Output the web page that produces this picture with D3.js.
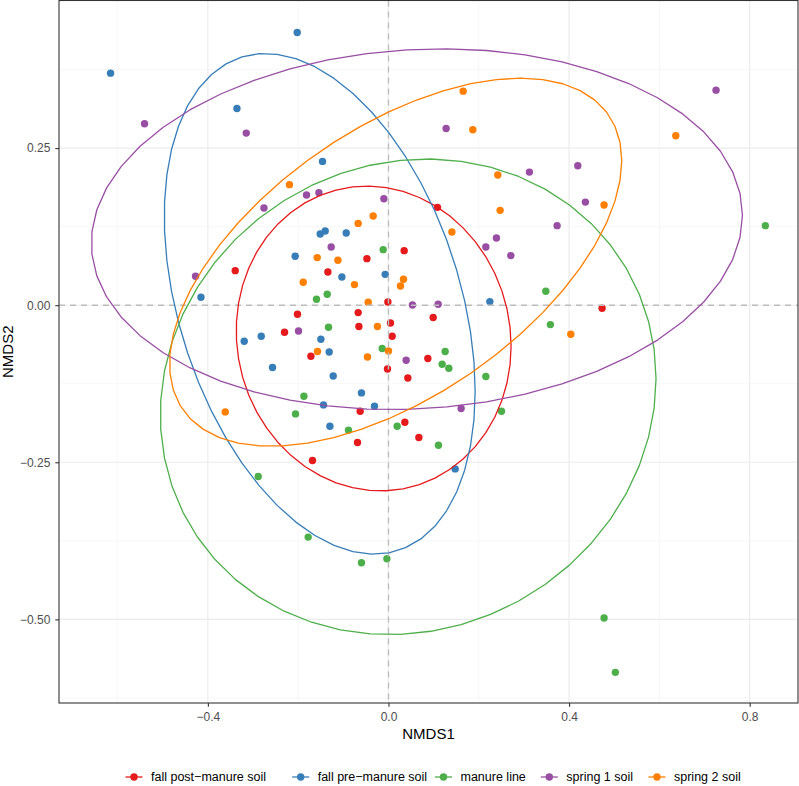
<!DOCTYPE html>
<html>
<head>
<meta charset="utf-8">
<script src="https://cdn.jsdelivr.net/npm/d3@7"></script>
<style>
  html, body { margin: 0; padding: 0; background: #fff; }
  svg { display: block; font-family: "Liberation Sans", Arial, Helvetica, sans-serif; }
</style>
</head>
<body>
<svg id="chart" width="799" height="786"></svg>
<script>
// ---------- data ----------
const groups = ["fall post\u2212manure soil", "fall pre\u2212manure soil", "manure line", "spring 1 soil", "spring 2 soil"];
const colors = ["#E41A1C", "#377EB8", "#4DAF4A", "#984EA3", "#FF7F00"];

const fallPost = [
  [0.1085,0.1557],[0.0348,0.0868],[-0.0478,0.0741],[-0.3394,0.0550],[-0.1342,0.0528],
  [-0.0013,0.0051],[-0.2015,-0.0145],[-0.0671,-0.0118],[0.0990,-0.0197],[0.0044,-0.0283],
  [-0.0655,-0.0340],[-0.2302,-0.0431],[0.0082,-0.0495],[-0.1718,-0.0813],[0.0872,-0.0849],
  [-0.0022,-0.1015],[0.0429,-0.1158],[-0.0627,-0.1687],[0.0363,-0.1862],[0.0673,-0.2106],
  [-0.0686,-0.2185],[-0.1683,-0.2471],[0.4731,-0.0049]
];
const fallPre = [
  [-0.6155,0.3693],[-0.3356,0.3131],[-0.2021,0.4340],[-0.1461,0.2288],[-0.1512,0.1132],
  [-0.1401,0.1180],[-0.0936,0.1148],[-0.2066,0.0778],[-0.1032,0.0448],[-0.0073,0.0491],
  [0.2245,0.0057],[-0.4153,0.0126],[-0.3195,-0.0574],[-0.2818,-0.0495],[-0.1497,-0.0542],
  [-0.1313,-0.0744],[-0.2568,-0.0992],[-0.1224,-0.1126],[-0.0598,-0.1396],[-0.1439,-0.1587],
  [-0.0310,-0.1608],[-0.1297,-0.1926],[0.1477,-0.2605]
];
const manureLine = [
  [-0.0117,0.0884],[-0.1357,0.0173],[-0.1594,0.0094],[-0.1328,-0.0351],[-0.0139,-0.0690],
  [0.1255,-0.0738],[0.1189,-0.0940],[0.1337,-0.1003],[0.2156,-0.1135],[-0.1873,-0.1449],
  [-0.2059,-0.1730],[0.2502,-0.1687],[-0.0886,-0.1989],[0.0193,-0.1926],[0.1107,-0.2228],
  [-0.2885,-0.2726],[-0.1778,-0.3691],[-0.0598,-0.4100],[-0.0035,-0.4036],[0.4775,-0.4979],
  [0.5025,-0.5843],[0.3485,0.0221],[0.3586,-0.0309],[0.8346,0.1266]
];
const spring1 = [
  [-0.5402,0.2888],[-0.3150,0.2739],[-0.2758,0.1546],[0.1277,0.2813],[-0.1815,0.1753],
  [-0.1541,0.1791],[-0.0102,0.1695],[0.3122,0.2118],[0.2391,0.1069],[0.2156,0.0926],
  [-0.1269,0.0926],[0.2710,0.0789],[0.7255,0.3422],[0.4193,0.2220],[0.4361,0.1641],
  [0.3735,0.1266],[-0.4273,0.0460],[0.0531,0.0003],[0.1100,0.0014],[-0.1992,-0.0410],
  [0.0392,-0.0876],[0.1609,-0.1644]
];
const spring2 = [
  [0.1654,0.3406],[0.1868,0.2793],[0.2422,0.2071],[-0.2192,0.1918],[0.2473,0.1509],
  [-0.0339,0.1419],[-0.0671,0.1302],[0.1404,0.1164],[-0.1578,0.0757],[-0.1120,0.0714],
  [0.0332,0.0412],[0.0266,0.0305],[-0.1888,0.0364],[-0.0753,0.0328],[-0.0449,0.0046],
  [-0.0244,-0.0340],[0.0000,-0.0728],[-0.1572,-0.0738],[-0.0465,-0.0824],[0.6363,0.2697],
  [0.4775,0.1594],[0.4038,-0.0463],[-0.3615,-0.1698]
];
const seriesPoints = [fallPost, fallPre, manureLine, spring1, spring2];

// ellipses: [centre x, centre y, half-extent x, half-extent y, correlation]
const ellipseCx  = [-0.0328, -0.1523, 0.0436, 0.0629, 0.0159];
const ellipseCy  = [-0.0530,  0.0022, -0.1458, 0.1210, 0.0684];
const ellipseHx  = [ 0.3044,  0.3443, 0.5490, 0.7211, 0.5008];
const ellipseHy  = [ 0.2425,  0.3984, 0.3785, 0.2871, 0.2929];
const ellipseRho = [-0.05,   -0.35,   0.076,  0.077,  0.552];

const xTicks = [-0.4, 0.0, 0.4, 0.8];
const xTickLabels = ["\u22120.4", "0.0", "0.4", "0.8"];
const xMinor = [-0.6, -0.2, 0.2, 0.6];
const yTicks = [-0.5, -0.25, 0.0, 0.25];
const yTickLabels = ["\u22120.50", "\u22120.25", "0.00", "0.25"];
const yMinor = [-0.625, -0.375, -0.125, 0.125, 0.375];

// ---------- layout ----------
const svg = d3.select("#chart");
const P = { left: 59, right: 798, top: 0.5, bottom: 703 };
const x = d3.scaleLinear().domain([-0.7297, 0.907]).range([P.left, P.right]);
const y = d3.scaleLinear().domain([-0.6331, 0.4849]).range([P.bottom, P.top]);

const panel = svg.append("g");
panel.append("rect").attr("x", P.left).attr("y", P.top)
  .attr("width", P.right - P.left).attr("height", P.bottom - P.top).attr("fill", "#fff");

// minor grid
panel.selectAll(".xminor").data(xMinor).enter().append("line")
  .attr("x1", d => x(d)).attr("x2", d => x(d)).attr("y1", P.top).attr("y2", P.bottom)
  .attr("stroke", "#F2F2F2").attr("stroke-width", 0.6);
panel.selectAll(".yminor").data(yMinor).enter().append("line")
  .attr("y1", d => y(d)).attr("y2", d => y(d)).attr("x1", P.left).attr("x2", P.right)
  .attr("stroke", "#F2F2F2").attr("stroke-width", 0.6);
// major grid
panel.selectAll(".xmajor").data(xTicks).enter().append("line")
  .attr("x1", d => x(d)).attr("x2", d => x(d)).attr("y1", P.top).attr("y2", P.bottom)
  .attr("stroke", "#EBEBEB").attr("stroke-width", 1.1);
panel.selectAll(".ymajor").data(yTicks).enter().append("line")
  .attr("y1", d => y(d)).attr("y2", d => y(d)).attr("x1", P.left).attr("x2", P.right)
  .attr("stroke", "#EBEBEB").attr("stroke-width", 1.1);

// points
seriesPoints.forEach((pts, gi) => {
  panel.append("g").selectAll("circle").data(pts).enter().append("circle")
    .attr("cx", d => x(d[0])).attr("cy", d => y(d[1])).attr("r", 3.7)
    .attr("fill", colors[gi]);
});

// reference lines at 0
panel.append("line").attr("x1", x(0)).attr("x2", x(0)).attr("y1", P.top).attr("y2", P.bottom)
  .attr("stroke", "#BDBDBD").attr("stroke-width", 1.4).attr("stroke-dasharray", "6,5");
panel.append("line").attr("y1", y(0)).attr("y2", y(0)).attr("x1", P.left).attr("x2", P.right)
  .attr("stroke", "#BDBDBD").attr("stroke-width", 1.4).attr("stroke-dasharray", "6,5");

// ellipses
const nSeg = 51;
groups.forEach((g, gi) => {
  const cx = ellipseCx[gi], cy = ellipseCy[gi], hx = ellipseHx[gi], hy = ellipseHy[gi], r = ellipseRho[gi];
  const s = Math.sqrt(1 - r * r);
  const pts = d3.range(nSeg + 1).map(i => {
    const t = 2 * Math.PI * i / nSeg;
    return [cx + hx * Math.cos(t), cy + hy * (r * Math.cos(t) + s * Math.sin(t))];
  });
  panel.append("path")
    .attr("d", d3.line().x(d => x(d[0])).y(d => y(d[1]))(pts))
    .attr("fill", "none").attr("stroke", colors[gi]).attr("stroke-width", 1.3)
    .attr("stroke-linejoin", "round");
});

// panel border
svg.append("rect").attr("x", P.left).attr("y", P.top)
  .attr("width", P.right - P.left).attr("height", P.bottom - P.top)
  .attr("fill", "none").attr("stroke", "#333333").attr("stroke-width", 1.1);

// axes
const xAxis = svg.append("g").attr("transform", `translate(0,${P.bottom})`)
  .call(d3.axisBottom(x).tickValues(xTicks).tickSize(3.7).tickPadding(5.3)
    .tickFormat((d, i) => xTickLabels[i]));
const yAxis = svg.append("g").attr("transform", `translate(${P.left},0)`)
  .call(d3.axisLeft(y).tickValues(yTicks).tickSize(3.7).tickPadding(5)
    .tickFormat((d, i) => yTickLabels[i]));
[xAxis, yAxis].forEach(a => {
  a.select(".domain").remove();
  a.selectAll(".tick line").attr("stroke", "#333333").attr("stroke-width", 1.1);
  a.selectAll(".tick text").attr("fill", "#4D4D4D").style("font-size", "12px")
    .style("font-family", "'Liberation Sans', Arial, sans-serif");
});

// axis titles
svg.append("text").attr("x", (P.left + P.right) / 2).attr("y", 738.5)
  .attr("text-anchor", "middle").style("font-size", "15px").attr("fill", "#000").text("NMDS1");
svg.append("text").attr("transform", `translate(13,${(P.top + P.bottom) / 2}) rotate(-90)`)
  .attr("text-anchor", "middle").style("font-size", "15px").attr("fill", "#000").text("NMDS2");

// legend
const legendKeyX = [134, 300.7, 443.5, 549.3, 657];
const legendY = 777;
groups.forEach((g, gi) => {
  const lg = svg.append("g").attr("transform", `translate(${legendKeyX[gi]},${legendY})`);
  lg.append("line").attr("x1", -8.5).attr("x2", 8.5).attr("y1", 0).attr("y2", 0)
    .attr("stroke", colors[gi]).attr("stroke-width", 1.3);
  lg.append("circle").attr("r", 3.7).attr("fill", colors[gi]);
  lg.append("text").attr("x", 17).attr("y", 0).attr("dy", "0.35em")
    .style("font-size", "12.5px").attr("fill", "#000").text(g);
});
</script>
</body>
</html>
